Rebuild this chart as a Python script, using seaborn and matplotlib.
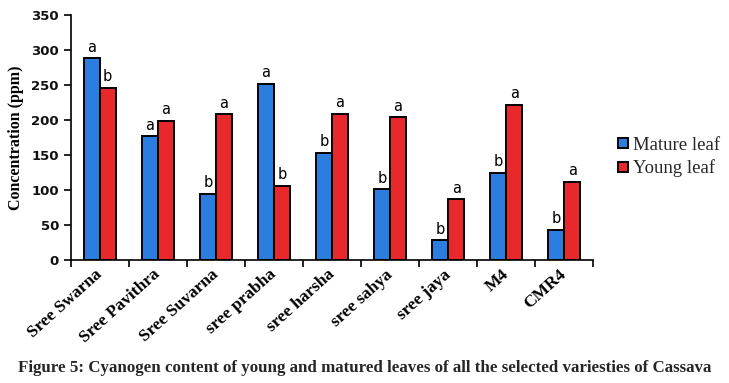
import matplotlib
matplotlib.use("Agg")
import matplotlib.pyplot as plt
import seaborn as sns
import pandas as pd
import numpy as np

varieties = ["Sree Swarna", "Sree Pavithra", "Sree Suvarna", "sree prabha", "sree harsha",
             "sree sahya", "sree jaya", "M4", "CMR4"]
mature = [288, 177, 95, 252, 153, 101, 28, 125, 43]
young = [246, 199, 208, 106, 209, 204, 87, 222, 112]
mature_sig = ["a", "a", "b", "a", "b", "b", "b", "b", "b"]
young_sig = ["b", "a", "a", "b", "a", "a", "a", "a", "a"]
series = ["Mature leaf", "Young leaf"]
yticks = [0, 50, 100, 150, 200, 250, 300, 350]

sns.set_theme(style="white")
plt.rcParams['font.family'] = ['DejaVu Sans']

df = pd.DataFrame({
    "Variety": varieties * 2,
    "Concentration": mature + young,
    "Leaf": [series[0]] * len(varieties) + [series[1]] * len(varieties),
})

fig = plt.figure(figsize=(7.29, 3.83), dpi=100)
ax = fig.add_axes([0.097, 0.321, 0.717, 0.640])
sns.barplot(data=df, x="Variety", y="Concentration", hue="Leaf", order=varieties,
            hue_order=series, palette=["#2b7de0", "#e8282a"], width=0.55,
            edgecolor="black", linewidth=1.4, saturation=1, ax=ax, errorbar=None)

# significance letters
for cont, sigs in zip(ax.containers, [mature_sig, young_sig]):
    for bar, s in zip(cont, sigs):
        ax.text(bar.get_x() + bar.get_width() / 2, bar.get_height() + 5, s,
                ha="center", va="bottom", fontsize=10.5, color="black")

ax.set_xlim(-0.5, len(varieties) - 0.5)
ax.set_ylim(0, 350)
ax.set_yticks(yticks)
ax.set_yticklabels([str(t) for t in yticks], fontsize=9.5, fontweight="bold", color="#111111")
ax.set_xticks(range(len(varieties)))
ax.set_xticklabels(varieties, rotation=42, ha="right", va="center", rotation_mode="anchor",
                   fontsize=12.5, family="Liberation Serif", fontweight="bold", color="black")
ax.set_xticks(np.arange(-0.5, len(varieties) + 0.5, 1), minor=True)
ax.tick_params(axis="x", which="major", length=0, pad=9)
ax.tick_params(axis="x", which="minor", length=5, width=1.2, color="black", bottom=True)
ax.tick_params(axis="y", length=5, width=1.2, color="black", left=True)
ax.set_xlabel("")
ax.set_ylabel("Concentration (ppm)", fontsize=11.5, fontweight="bold",
              family="Liberation Serif", color="black", labelpad=5)
for sp in ["top", "right"]:
    ax.spines[sp].set_visible(False)
for sp in ["left", "bottom"]:
    ax.spines[sp].set_color("black")
    ax.spines[sp].set_linewidth(1.2)

leg = ax.legend(loc="center left", bbox_to_anchor=(1.015, 0.42), frameon=False,
                prop={"family": "Liberation Serif", "size": 13.5},
                handlelength=0.55, handleheight=0.45, handletextpad=0.25, labelspacing=0.3)

fig.text(0.5, 0.04, "Figure 5: Cyanogen content of young and matured leaves of all the selected variesties of Cassava",
         ha="center", va="center", fontsize=12.2, fontweight="bold", family="Liberation Serif")

fig.savefig("out.png", dpi=100)
